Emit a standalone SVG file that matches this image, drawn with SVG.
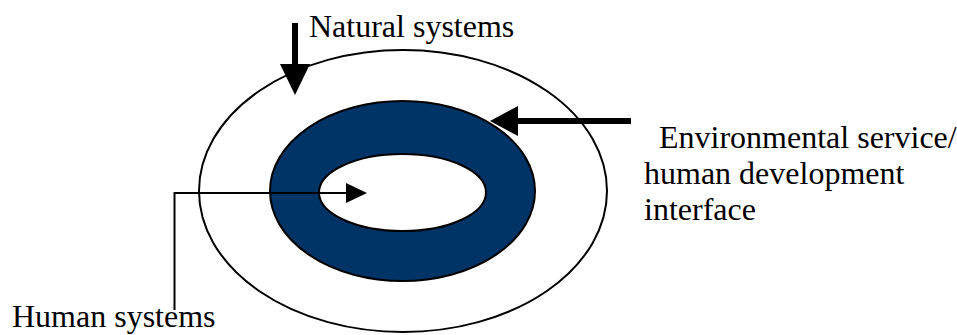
<svg xmlns="http://www.w3.org/2000/svg" width="957" height="335" viewBox="0 0 957 335">
<style>
.lbl{font-family:"Liberation Serif","Times New Roman",serif;font-size:32px;fill:#000}
.ring{stroke:#000;stroke-width:2}
.thick{stroke:#000;stroke-width:6;fill:none}
.thin{stroke:#000;stroke-width:2;fill:none}
</style>
<rect width="957" height="335" fill="#fff"/>
<g id="natural-systems">
<ellipse class="ring" cx="403" cy="191" rx="204" ry="141" fill="#fff"/>
</g>
<g id="interface">
<ellipse class="ring" cx="402.5" cy="191" rx="132.5" ry="90" fill="#003366"/>
</g>
<g id="human-systems">
<ellipse class="ring" cx="402.5" cy="192.5" rx="83.5" ry="38.5" fill="#fff"/>
</g>
<g id="connectors">
<line class="thick" x1="295" y1="23" x2="295" y2="66"/>
<polygon points="280,64 310,64 295,95" fill="#000"/>
<line class="thick" x1="631" y1="121" x2="515" y2="121"/>
<polygon points="518,106 518,136 490,121" fill="#000"/>
<polyline class="thin" points="174.5,310 174.5,193 348,193"/>
<polygon points="346,183 346,203 367,193" fill="#000"/>
</g>
<g id="labels">
<text class="lbl" x="309" y="37">Natural systems</text>
<text class="lbl" x="659" y="148">Environmental service/</text>
<text class="lbl" x="644" y="184">human development</text>
<text class="lbl" x="644" y="220">interface</text>
<text class="lbl" x="12" y="327">Human systems</text>
</g>
</svg>
